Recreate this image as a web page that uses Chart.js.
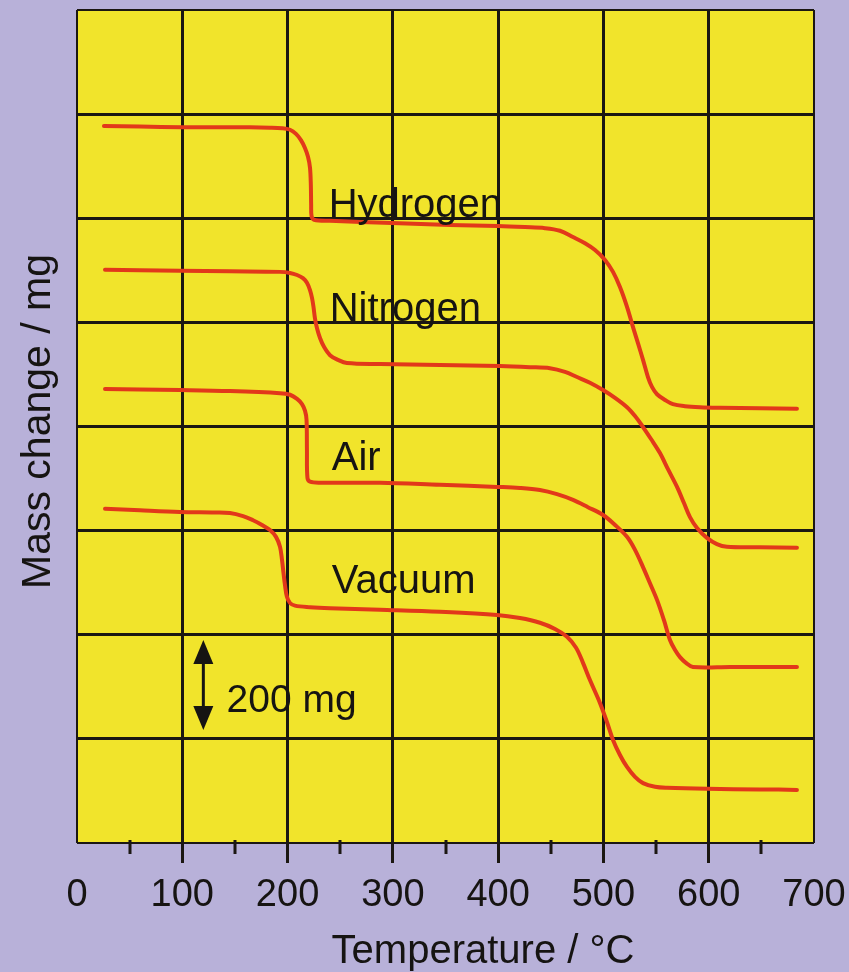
<!DOCTYPE html>
<html>
<head>
<meta charset="utf-8">
<style>
html,body{margin:0;padding:0;background:#b8b1d9;}
#wrap{width:849px;height:972px;position:relative;}
</style>
<script src="https://cdn.jsdelivr.net/npm/chart.js@4/dist/chart.umd.min.js"></script>
</head>
<body>
<div id="wrap"><canvas id="c" width="849" height="972"></canvas></div>
<script>
// ---- axis ticks ----
const xTickValues = [0, 100, 200, 300, 400, 500, 600, 700];
const minorTickValues = [50, 150, 250, 350, 450, 550, 650];
const xTitle = 'Temperature / °C';
const yTitle = 'Mass change / mg';

// ---- series (temperature °C, mass on a relative mg scale) ----
const seriesNames = ['Hydrogen', 'Nitrogen', 'Air', 'Vacuum'];

const hydrogenT = [25.6, 59.8, 99.7, 145.3, 183.3, 194.7, 202.3, 208.0, 212.7, 216.5, 219.4, 221.3, 222.1, 222.4, 222.8, 225.1, 240.3, 299.2, 354.3, 399.8, 425.5, 444.5, 458.7, 471.1, 482.5, 492.0, 501.5, 509.1, 515.7, 522.4, 528.1, 532.8, 537.6, 542.3, 546.1, 550.9, 558.5, 566.0, 577.4, 591.7, 610.7, 648.7, 683.8];
const hydrogenM = [1377, 1376, 1375, 1375, 1374, 1373, 1370, 1362, 1350, 1335, 1318, 1297, 1264, 1225, 1204, 1197, 1195, 1191, 1187, 1185, 1183, 1181, 1176, 1164, 1152, 1139, 1120, 1097, 1068, 1030, 991, 960, 928, 895, 876, 862, 851, 843, 839, 837, 836, 835, 834];

const nitrogenT = [26.6, 59.8, 97.8, 145.3, 192.8, 202.3, 209.0, 214.6, 218.4, 221.3, 223.2, 224.6, 226.0, 227.9, 230.8, 234.6, 240.3, 247.9, 256.4, 287.8, 344.8, 401.7, 430.2, 449.2, 463.5, 474.9, 487.2, 499.6, 511.0, 522.4, 530.0, 537.6, 545.2, 553.7, 561.3, 569.9, 576.5, 582.2, 588.9, 598.3, 607.8, 617.3, 648.7, 683.8];
const nitrogenM = [1101, 1100, 1099, 1098, 1097, 1095, 1091, 1085, 1076, 1062, 1047, 1030, 1008, 989, 970, 953, 937, 928, 922, 920, 918, 916, 914, 912, 905, 895, 884, 870, 855, 837, 820, 799, 776, 749, 718, 684, 653, 626, 605, 586, 574, 569, 568, 567];

const airT = [26.6, 59.8, 97.8, 145.3, 192.8, 202.3, 209.0, 213.7, 216.6, 218.0, 218.4, 218.9, 221.3, 230.8, 287.8, 344.8, 398.9, 420.7, 439.7, 455.9, 471.1, 485.3, 499.6, 511.0, 522.4, 530.0, 537.6, 544.2, 550.9, 557.5, 563.2, 567.9, 572.7, 578.4, 585.0, 620.2, 683.8];
const airM = [872, 871, 870, 868, 864, 861, 853, 843, 830, 813, 755, 701, 694, 692, 692, 688, 684, 682, 678, 670, 659, 645, 630, 611, 588, 563, 530, 499, 467, 428, 390, 371, 357, 346, 338, 338, 338];

const vacuumT = [26.6, 59.8, 97.8, 131.1, 145.3, 157.7, 167.2, 175.7, 183.3, 189.0, 192.8, 194.7, 196.1, 197.5, 199.4, 202.3, 207.0, 221.3, 240.3, 287.8, 344.8, 398.9, 420.7, 439.7, 454.0, 465.4, 474.0, 480.6, 487.2, 496.7, 503.4, 509.1, 515.7, 522.4, 530.0, 537.6, 549.0, 560.4, 598.3, 648.7, 683.8];
const vacuumM = [642, 639, 636, 635, 634, 628, 620, 611, 601, 588, 569, 544, 519, 496, 473, 461, 456, 453, 451, 448, 444, 438, 432, 423, 411, 396, 375, 346, 313, 269, 232, 198, 169, 146, 127, 115, 108, 106, 104, 103, 102];

// ---- annotations (data coordinates) ----
const curveLabelT = [239, 240, 242, 242];
const curveLabelM = [1202, 1003, 716, 480];
const scaleBarText = '200 mg';
const scaleBarT = 120;
const scaleBarFrom = 217;
const scaleBarTo = 390;
const scaleBarTextT = 142;
const scaleBarTextM = 252;

const seriesT = [hydrogenT, nitrogenT, airT, vacuumT];
const seriesM = [hydrogenM, nitrogenM, airM, vacuumM];

const FONT = '"Liberation Sans", Arial, Helvetica, sans-serif';
const INK = '#161412';
const GRID = '#1b1712';

const datasets = seriesNames.map((name, i) => ({
  label: name,
  data: seriesT[i].map((t, j) => ({x: t, y: seriesM[i][j]})),
  borderColor: '#e2381a',
  borderWidth: 4,
  borderCapStyle: 'round',
  borderJoinStyle: 'round',
  pointRadius: 0,
  fill: false,
  tension: 0.35
}));

const bgPlugin = {
  id: 'bg',
  beforeDraw(chart) {
    const {ctx, chartArea: a} = chart;
    ctx.save();
    ctx.fillStyle = '#b8b1d9';
    ctx.fillRect(0, 0, chart.width, chart.height);
    ctx.fillStyle = '#f1e42b';
    ctx.fillRect(a.left, a.top, a.right - a.left, a.bottom - a.top);
    ctx.restore();
  }
};

const annoPlugin = {
  id: 'anno',
  afterDatasetsDraw(chart) {
    const {ctx, chartArea: a} = chart;
    const xs = chart.scales.x, ys = chart.scales.y;
    ctx.save();
    // minor ticks
    ctx.fillStyle = GRID;
    minorTickValues.forEach(v => {
      const px = xs.getPixelForValue(v);
      ctx.fillRect(Math.round(px) - 1.5, a.bottom - 3, 3, 14);
    });
    // curve labels
    ctx.fillStyle = INK;
    ctx.font = '40px ' + FONT;
    ctx.textAlign = 'left';
    ctx.textBaseline = 'alphabetic';
    seriesNames.forEach((n, i) => {
      ctx.fillText(n, xs.getPixelForValue(curveLabelT[i]), ys.getPixelForValue(curveLabelM[i]));
    });
    // scale bar arrow
    const ax = xs.getPixelForValue(scaleBarT);
    const yTop = ys.getPixelForValue(scaleBarTo);
    const yBot = ys.getPixelForValue(scaleBarFrom);
    ctx.strokeStyle = INK;
    ctx.lineWidth = 3;
    ctx.beginPath();
    ctx.moveTo(ax, yTop + 20);
    ctx.lineTo(ax, yBot - 20);
    ctx.stroke();
    ctx.beginPath();
    ctx.moveTo(ax, yTop); ctx.lineTo(ax - 10, yTop + 24); ctx.lineTo(ax + 10, yTop + 24); ctx.closePath();
    ctx.fill();
    ctx.beginPath();
    ctx.moveTo(ax, yBot); ctx.lineTo(ax - 10, yBot - 24); ctx.lineTo(ax + 10, yBot - 24); ctx.closePath();
    ctx.fill();
    ctx.font = '39px ' + FONT;
    ctx.fillText(scaleBarText, xs.getPixelForValue(scaleBarTextT), ys.getPixelForValue(scaleBarTextM));
    ctx.restore();
  },
  afterDraw(chart) {
    const {ctx, chartArea: a} = chart;
    ctx.save();
    ctx.fillStyle = INK;
    ctx.font = '40px ' + FONT;
    ctx.textAlign = 'center';
    ctx.textBaseline = 'alphabetic';
    ctx.fillText(xTitle, 483, 963);
    ctx.translate(50, (a.top + a.bottom) / 2 - 5);
    ctx.rotate(-Math.PI / 2);
    ctx.font = '41px ' + FONT;
    ctx.fillText(yTitle, 0, 0);
    ctx.restore();
  }
};

const edgeX = v => v === xTickValues[0] || v === xTickValues[xTickValues.length - 1];

new Chart(document.getElementById('c'), {
  type: 'line',
  data: {datasets},
  plugins: [bgPlugin, annoPlugin],
  options: {
    responsive: false,
    devicePixelRatio: 1,
    animation: false,
    layout: {padding: {left: 0, right: 35, top: 10, bottom: 0}},
    plugins: {legend: {display: false}, tooltip: {enabled: false}},
    scales: {
      x: {
        type: 'linear',
        min: 0, max: 700,
        afterBuildTicks: s => { s.ticks = xTickValues.map(v => ({value: v})); },
        afterFit: s => { s.height = 129; s.paddingLeft = 0; s.paddingRight = 0; },
        ticks: {
          autoSkip: false, maxRotation: 0, padding: 10,
          color: INK,
          font: {family: FONT, size: 38}
        },
        grid: {
          color: GRID,
          lineWidth: c => edgeX(c.tick && c.tick.value) ? 2 : 3,
          tickLength: 20,
          tickWidth: 3,
          tickColor: c => edgeX(c.tick && c.tick.value) ? 'rgba(0,0,0,0)' : GRID
        },
        border: {display: false}
      },
      y: {
        type: 'linear',
        min: 0, max: 1600,
        afterFit: s => { s.width = 77; s.paddingTop = 0; s.paddingBottom = 0; },
        ticks: {display: false, stepSize: 200},
        grid: {
          color: GRID,
          lineWidth: c => (c.tick && (c.tick.value === 0 || c.tick.value === 1600)) ? 2 : 3,
          drawTicks: false
        },
        border: {display: false}
      }
    }
  }
});
</script>
</body>
</html>
